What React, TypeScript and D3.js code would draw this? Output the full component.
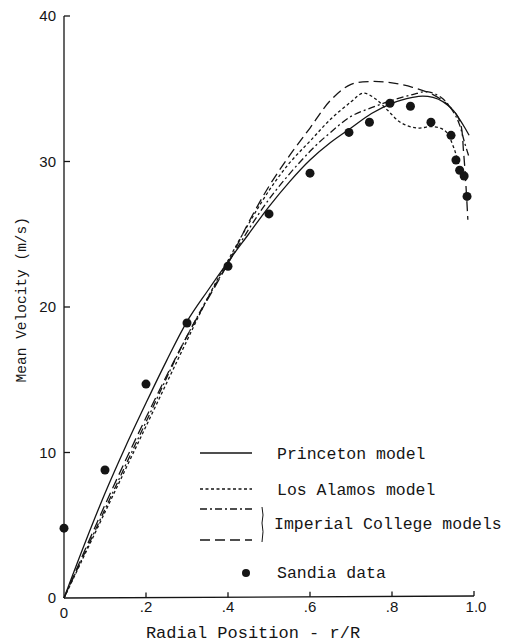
import * as d3 from "d3";

const xTicks = [0, 0.2, 0.4, 0.6, 0.8, 1.0];
const xTickLabels = ["0", ".2", ".4", ".6", ".8", "1.0"];
const yTicks = [0, 10, 20, 30, 40];

// Sandia data (r/R, m/s)
const sandiaR = [0, 0.1, 0.2, 0.3, 0.4, 0.5, 0.6, 0.695, 0.745, 0.795, 0.845, 0.895, 0.944, 0.956, 0.965, 0.976, 0.983];
const sandiaV = [4.8, 8.8, 14.7, 18.9, 22.8, 26.4, 29.2, 32.0, 32.7, 34.0, 33.8, 32.7, 31.8, 30.1, 29.4, 29.0, 27.6];

const princetonR = [0, 0.05, 0.1, 0.15, 0.2, 0.25, 0.3, 0.35, 0.4, 0.45, 0.5, 0.55, 0.6, 0.65, 0.7, 0.75, 0.8, 0.85, 0.875, 0.9, 0.925, 0.95, 0.965, 0.978, 0.988];
const princetonV = [0, 3.7, 7.2, 10.4, 13.4, 16.3, 19.0, 21.1, 23.1, 25.0, 26.9, 28.6, 30.1, 31.3, 32.3, 33.3, 34.0, 34.4, 34.5, 34.4, 34.1, 33.5, 32.9, 32.3, 31.8];

const losAlamosR = [0, 0.1, 0.2, 0.3, 0.35, 0.4, 0.45, 0.5, 0.55, 0.6, 0.65, 0.7, 0.73, 0.76, 0.79, 0.82, 0.86, 0.9, 0.93, 0.95, 0.965, 0.978];
const losAlamosV = [0, 5.9, 11.8, 17.7, 20.6, 23.2, 25.7, 28.0, 29.9, 31.4, 32.9, 34.1, 34.7, 34.3, 33.5, 32.7, 32.3, 32.4, 32.1, 31.0, 29.6, 28.6];

const icOneR = [0, 0.1, 0.2, 0.3, 0.4, 0.5, 0.6, 0.65, 0.7, 0.75, 0.8, 0.85, 0.885, 0.92, 0.95, 0.965, 0.977, 0.988];
const icOneV = [0, 6.1, 12.1, 18.0, 23.0, 27.4, 30.7, 32.0, 33.1, 33.7, 34.2, 34.6, 34.8, 34.4, 33.4, 32.5, 31.3, 30.3];

const icTwoR = [0, 0.1, 0.2, 0.3, 0.4, 0.45, 0.5, 0.55, 0.6, 0.65, 0.7, 0.75, 0.8, 0.85, 0.9, 0.94, 0.965, 0.975, 0.985];
const icTwoV = [0, 6.4, 12.4, 18.0, 23.0, 25.8, 28.3, 30.4, 32.3, 34.2, 35.3, 35.5, 35.4, 35.1, 34.6, 33.8, 32.8, 30.5, 26.0];

const models = [
  { name: "Princeton model", r: princetonR, v: princetonV, dash: "none" },
  { name: "Los Alamos model", r: losAlamosR, v: losAlamosV, dash: "3 2.5" },
  { name: "Imperial College I", r: icOneR, v: icOneV, dash: "7 3 2 3" },
  { name: "Imperial College II", r: icTwoR, v: icTwoV, dash: "10 5" },
];

const width = 509;
const height = 643;
const ink = "#151515";

export default function App() {
  const x = d3.scaleLinear().domain([0, 1]).range([64, 474]);
  const y = d3.scaleLinear().domain([0, 40]).range([598, 16]);

  const line = d3
    .line<[number, number]>()
    .x((d) => x(d[0]))
    .y((d) => y(d[1]))
    .curve(d3.curveCatmullRom.alpha(0.5));

  const mono = "'Liberation Mono', 'DejaVu Sans Mono', monospace";
  const sans = "'Liberation Sans', Arial, sans-serif";

  return (
    <svg width={width} height={height} style={{ position: "absolute", left: 0, top: 0, background: "#fff" }}>
      {/* axes */}
      <line x1={x(0)} y1={y(40)} x2={x(0)} y2={y(0)} stroke={ink} strokeWidth={1.3} />
      <line x1={x(0)} y1={y(0)} x2={x(1)} y2={y(0) - 2} stroke={ink} strokeWidth={1.3} />
      {yTicks.map((t) => (
        <g key={"y" + t}>
          {t > 0 && <line x1={x(0)} x2={x(0) + 6} y1={y(t)} y2={y(t)} stroke={ink} strokeWidth={1.3} />}
          <text x={x(0) - 8} y={y(t)} dy="0.35em" textAnchor="end" fontFamily={sans} fontSize={15} fill={ink}>
            {t}
          </text>
        </g>
      ))}
      {xTicks.map((t, i) => (
        <g key={"x" + t}>
          {t > 0 && <line x1={x(t)} x2={x(t)} y1={y(0) - 2 * t} y2={y(0) - 2 * t - 5} stroke={ink} strokeWidth={1.3} />}
          <text x={x(t) + (t === 1 ? 2 : 0)} y={t === 0 ? 618 : 612} textAnchor="middle" fontFamily={sans} fontSize={15} fill={ink}>
            {xTickLabels[i]}
          </text>
        </g>
      ))}
      <text x={253} y={638} textAnchor="middle" fontFamily={mono} fontSize={17} fill={ink}>
        Radial Position - r/R
      </text>
      <text transform={`translate(26,${y(20.5)}) rotate(-90)`} textAnchor="middle" fontFamily={mono} fontSize={14.5} fill={ink}>
        Mean Velocity (m/s)
      </text>

      {/* model curves */}
      {models.map((m) => (
        <path
          key={m.name}
          d={line(m.r.map((r, i) => [r, m.v[i]] as [number, number])) || ""}
          fill="none"
          stroke={ink}
          strokeWidth={1.3}
          strokeDasharray={m.dash}
        />
      ))}

      {/* Sandia data */}
      {sandiaR.map((r, i) => (
        <circle key={i} cx={x(r)} cy={y(sandiaV[i])} r={4.5} fill={ink} />
      ))}

      {/* legend */}
      <g fontFamily={mono} fontSize={16.5} fill={ink}>
        <line x1={200} x2={252} y1={453} y2={453} stroke={ink} strokeWidth={1.3} />
        <text x={277} y={453} dy="0.35em">Princeton model</text>
        <line x1={200} x2={252} y1={489} y2={489} stroke={ink} strokeWidth={1.3} strokeDasharray={models[1].dash} />
        <text x={277} y={489} dy="0.35em">Los Alamos model</text>
        <line x1={200} x2={252} y1={509} y2={509} stroke={ink} strokeWidth={1.3} strokeDasharray={models[2].dash} />
        <line x1={200} x2={252} y1={540} y2={540} stroke={ink} strokeWidth={1.3} strokeDasharray={models[3].dash} />
        <path d="M262,507 Q264,515 262,523 Q264,531 262,542" fill="none" stroke={ink} strokeWidth={1} />
        <text x={274} y={523} dy="0.35em">Imperial College models</text>
        <circle cx={246} cy={573} r={4} fill={ink} />
        <text x={277} y={572} dy="0.35em">Sandia data</text>
      </g>
    </svg>
  );
}
